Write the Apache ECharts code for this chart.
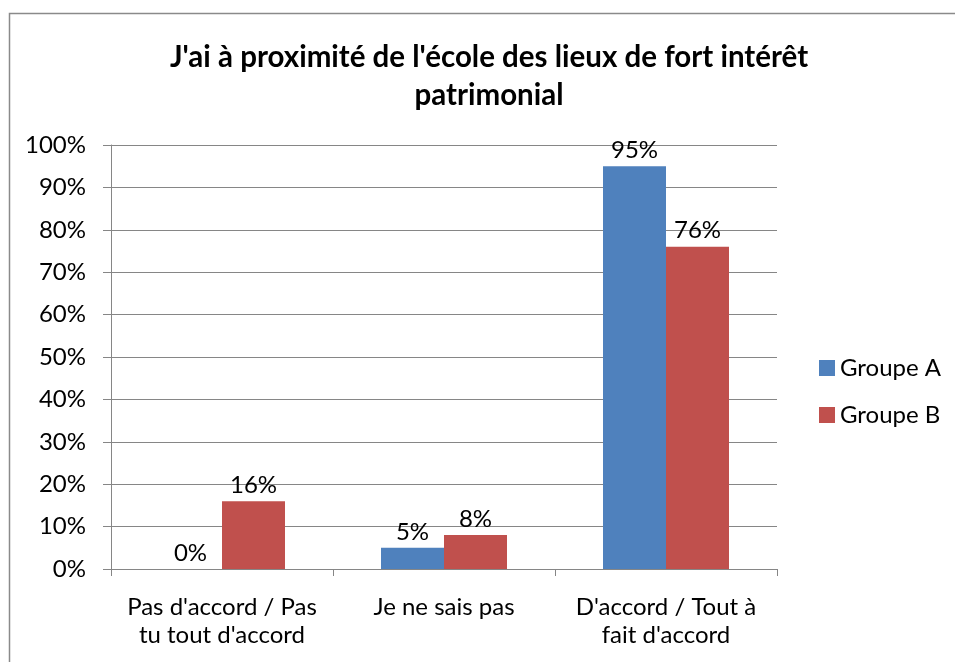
<!DOCTYPE html>
<html>
<head>
<meta charset="utf-8">
<script src="https://cdn.jsdelivr.net/npm/echarts@6/dist/echarts.min.js"></script>
<style>
html,body{margin:0;padding:0;background:#fff;}
#chart{width:955px;height:662px;}
</style>
</head>
<body>
<div id="chart"></div>
<script>
const categories = ["Pas d'accord / Pas\ntu tout d'accord", "Je ne sais pas", "D'accord / Tout à\nfait d'accord"];
const groupeA = [0, 5, 95];
const groupeB = [16, 8, 76];
const seriesNames = ["Groupe A", "Groupe B"];
const titleLines = ["J'ai à proximité de l'école des lieux de fort intérêt", "patrimonial"];

const FONT = 'Lato';
const chart = echarts.init(document.getElementById('chart'), null, {renderer: 'canvas'});
const labelStyle = {
  show: true, position: 'top', distance: 4,
  formatter: p => p.value + '%', color: '#000', fontSize: 24, fontFamily: FONT
};
chart.setOption({
  animation: false,
  backgroundColor: '#fff',
  graphic: [
    {type: 'rect', shape: {x: 9.5, y: 13.5, width: 1000, height: 700}, style: {fill: 'none', stroke: '#8a8a8a', lineWidth: 1.5}, silent: true},
    {type: 'text', x: 489, y: 57, style: {text: titleLines[0], align: 'center', verticalAlign: 'middle', font: 'bold 29.5px ' + FONT, fill: '#000'}},
    {type: 'text', x: 489, y: 95, style: {text: titleLines[1], align: 'center', verticalAlign: 'middle', font: 'bold 29.5px ' + FONT, fill: '#000'}}
  ],
  legend: {
    orient: 'vertical', left: 819, top: 356, padding: 0,
    itemWidth: 16, itemHeight: 16, itemGap: 23, itemTextGap: 6,
    icon: 'rect',
    textStyle: {fontSize: 24, fontFamily: FONT, color: '#000'},
    data: seriesNames
  },
  grid: {left: 111, right: 178, top: 145, bottom: 93, containLabel: false},
  xAxis: {
    type: 'category', data: categories,
    axisLine: {show: true, lineStyle: {color: '#868686', width: 1}},
    axisTick: {show: true, length: 7, alignWithLabel: false, lineStyle: {color: '#868686'}},
    axisLabel: {interval: 0, fontSize: 24, fontFamily: FONT, color: '#000', lineHeight: 28, margin: 24}
  },
  yAxis: {
    type: 'value', min: 0, max: 100, interval: 10,
    axisLine: {show: true, lineStyle: {color: '#868686', width: 1}},
    axisTick: {show: true, length: 8, inside: false, lineStyle: {color: '#868686'}},
    splitLine: {show: true, lineStyle: {color: '#868686', width: 1}},
    axisLabel: {formatter: '{value}%', fontSize: 24, fontFamily: FONT, color: '#000', margin: 25}
  },
  series: [
    {name: seriesNames[0], type: 'bar', data: groupeA, barWidth: 63, barGap: '0%', itemStyle: {color: '#4F81BD'}, label: labelStyle},
    {name: seriesNames[1], type: 'bar', data: groupeB, barWidth: 63, barGap: '0%', itemStyle: {color: '#C0504D'}, label: labelStyle}
  ]
});
</script>
</body>
</html>
